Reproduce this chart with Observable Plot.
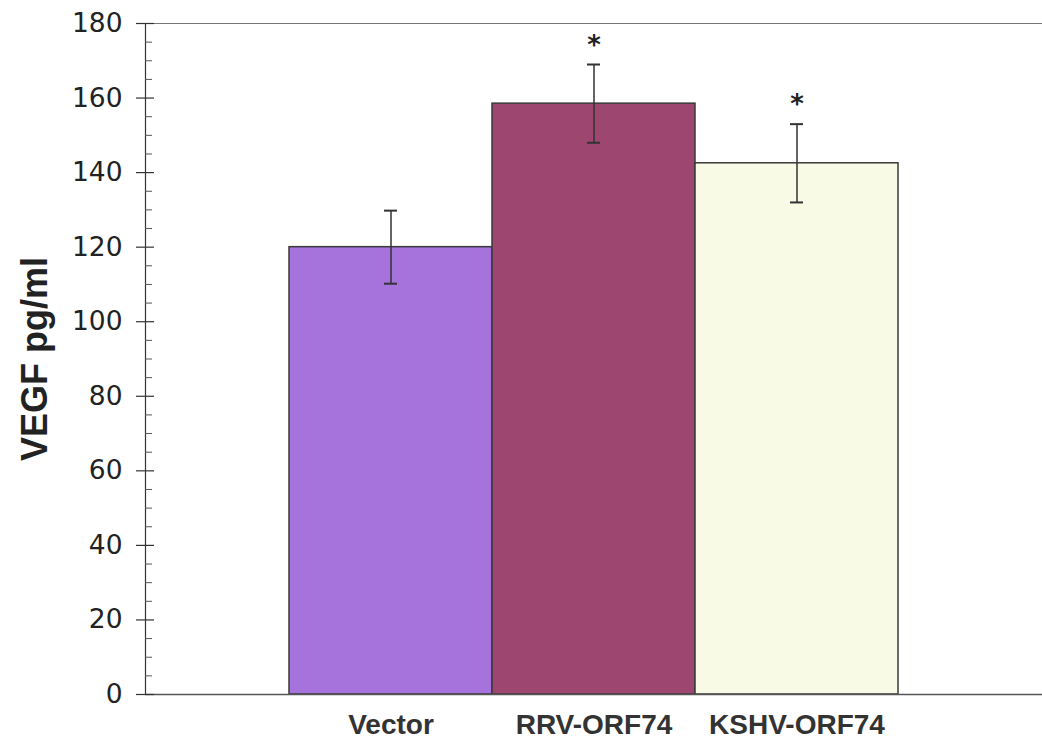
<!DOCTYPE html>
<html>
<head>
<meta charset="utf-8">
<script src="https://cdn.jsdelivr.net/npm/d3@7"></script>
<script src="https://cdn.jsdelivr.net/npm/@observablehq/plot@0.6"></script>
<style>
  html, body { margin: 0; padding: 0; background: #fff; }
  svg { display: block; }
</style>
</head>
<body>
<div id="chart"></div>
<script>
const categories = ["Vector", "RRV-ORF74", "KSHV-ORF74"];
const values = [120, 158.5, 142.5];
const errors = [9.8, 10.5, 10.5];
const significant = [false, true, true];
const barColors = ["#a672dc", "#9c4670", "#f8fae6"];
const majorTicks = d3.range(0, 181, 20);
const minorTicks = d3.range(0, 181, 5).filter(v => v % 20 !== 0);

const data = categories.map((c, i) => ({
  cat: c, value: values[i], lo: values[i] - errors[i], hi: values[i] + errors[i], sig: significant[i]
}));

const chart = Plot.plot({
  width: 1042,
  height: 747,
  marginTop: 23,
  marginBottom: 53,
  marginLeft: 145,
  marginRight: 0,
  style: { background: "#fff", fontFamily: "Liberation Sans, Arial, sans-serif" },
  x: { domain: categories, paddingInner: 0, paddingOuter: 0.7, label: null },
  y: { domain: [0, 180], label: null },
  color: { domain: categories, range: barColors },
  marks: [
    Plot.barY(data, { x: "cat", y: "value", fill: "cat", stroke: "#3a3a3a", strokeWidth: 1.5 }),
    Plot.ruleY([180], { stroke: "#777", strokeWidth: 1.2 }),
    Plot.ruleY([0], { stroke: "#555", strokeWidth: 1.5 }),
    Plot.frame({ anchor: "left", stroke: "#333", strokeWidth: 1.2 }),
    Plot.axisY({ ticks: majorTicks, tickSize: 18, dx: 9, tickFormat: () => "", label: null, stroke: "#333", strokeWidth: 1.2 }),
    Plot.axisY({ ticks: minorTicks, tickSize: 7, dx: 7, tickFormat: () => "", label: null, stroke: "#555", strokeWidth: 1 }),
    Plot.axisY({ ticks: majorTicks, tickSize: 0, tickPadding: 23, fontSize: 26.5, label: null,
                 fill: "#222", fontFamily: "DejaVu Sans, sans-serif" }),
    Plot.axisX({ tickSize: 0, tickPadding: 20, fontSize: 28, fontWeight: "bold", label: null, fill: "#333" }),
    Plot.ruleX(data, { x: "cat", y1: "lo", y2: "hi", stroke: "#333", strokeWidth: 1.5 }),
    Plot.tickY(data, { x: "cat", y: "lo", inset: 95, stroke: "#333", strokeWidth: 2 }),
    Plot.tickY(data, { x: "cat", y: "hi", inset: 95, stroke: "#333", strokeWidth: 2 }),
    Plot.text(data.filter(d => d.sig), { x: "cat", y: "hi", text: () => "*", dy: -19, fontSize: 26,
              fontWeight: "bold", fill: "#222", fontFamily: "DejaVu Sans, sans-serif" }),
    Plot.text(["VEGF pg/ml"], { frameAnchor: "left", textAnchor: "middle", rotate: -90, dx: -110, fontSize: 36,
              fontWeight: "bold", fill: "#222" })
  ]
});
document.getElementById("chart").appendChild(chart);
</script>
</body>
</html>
